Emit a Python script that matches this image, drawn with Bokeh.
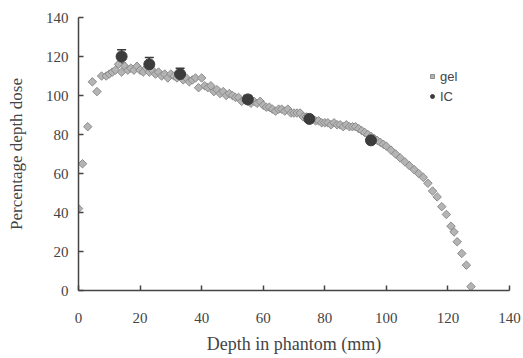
from bokeh.plotting import figure
from bokeh.models import ColumnDataSource, Whisker, TeeHead, Legend, LegendItem, FixedTicker
from bokeh.embed import file_html
from bokeh.resources import INLINE
import numpy as np

# gel dosimeter measurements (depth mm, PDD %)
gel_x = [0, 1.3, 3, 4.5, 6, 7.5, 9, 10, 11, 12, 13, 14, 15, 16, 17, 18, 19, 20,
         21, 22, 23, 24, 25, 26, 27, 28, 29, 30, 31, 32, 33, 34, 35, 36, 37, 38,
         39, 40, 41, 42, 43, 44, 45, 46, 47, 48, 49, 50, 51, 52, 53, 54, 55, 56,
         57, 58, 59, 60, 61, 62, 63, 64, 65, 66, 67, 68, 69, 70, 71, 72, 73, 74,
         75, 76, 77, 78, 79, 80, 81, 82, 83, 84, 85, 86, 87, 88, 89, 90, 91, 92,
         93, 94, 95, 96, 97, 98, 99, 100, 101.5, 103, 104.5, 106, 107.5, 109,
         110.5, 112, 113.5, 115, 116.5, 118, 119.5, 121, 122, 123, 124.5, 126, 127.5]
gel_y = [42, 65, 84, 107, 102, 110, 110, 111, 112, 113, 116, 112, 115, 113, 114, 113, 115, 113,
         112, 114, 112, 113, 111, 112, 110, 111, 109, 111, 110, 109, 110, 108, 109, 107, 108, 109,
         104, 109, 105, 104, 105, 102, 103, 101, 102, 100, 101, 100, 99, 99, 97, 98, 97, 96,
         97, 96, 97, 95, 94, 94, 93, 92, 93, 93, 92, 93, 91, 91, 91, 91, 89, 89,
         88, 88, 87, 87, 86, 86, 86, 85, 86, 85, 85, 84, 85, 84, 84, 84, 83, 82,
         81, 80, 79, 78, 77, 76, 75, 74, 72, 70, 68, 66, 64, 62,
         60, 58, 55, 51, 48, 43, 39, 33, 30, 25, 19, 13, 2]

# ionisation chamber measurements
ic_x = [14, 23, 33, 55, 75, 95]
ic_y = [120, 116, 111, 98, 88, 77]
ic_err = [3.5, 3.5, 3, 2, 1.5, 1.5]

ticks = [0, 20, 40, 60, 80, 100, 120, 140]

p = figure(width=523, height=358, output_backend="svg", toolbar_location=None,
           x_range=(0, 140), y_range=(0, 140),
           min_border_left=78, min_border_right=14, min_border_top=17, min_border_bottom=68)
p.outline_line_color = None
p.xgrid.visible = False
p.ygrid.visible = False
p.background_fill_color = "white"

gel_src = ColumnDataSource(dict(x=gel_x, y=gel_y))
ic_src = ColumnDataSource(dict(x=ic_x, y=ic_y,
                               upper=[a + b for a, b in zip(ic_y, ic_err)],
                               lower=[a - b for a, b in zip(ic_y, ic_err)]))

r_gel = p.scatter("x", "y", source=gel_src, marker="square", angle=np.pi / 4, size=6,
                  fill_color="#b4b4b4", line_color="#8c8c8c", line_width=1)

w = Whisker(source=ic_src, base="x", upper="upper", lower="lower",
            line_color="#3a3a3a", line_width=1.5,
            upper_head=TeeHead(size=9, line_color="#3a3a3a", line_width=1.5),
            lower_head=TeeHead(size=9, line_color="#3a3a3a", line_width=1.5))
p.add_layout(w)
r_ic = p.scatter("x", "y", source=ic_src, marker="circle", size=11,
                 fill_color="#3c3c3c", line_color="#3c3c3c")

legend = Legend(items=[LegendItem(label="gel", renderers=[r_gel]),
                       LegendItem(label="IC", renderers=[r_ic])],
                location=(349, 184), padding=0, spacing=0, margin=0,
                border_line_color=None, background_fill_alpha=0,
                glyph_width=10, glyph_height=20, label_height=20, label_standoff=3,
                label_text_font="Liberation Sans", label_text_font_size="13px",
                label_text_color="#444444")
p.add_layout(legend)

for ax in (p.xaxis[0], p.yaxis[0]):
    ax.ticker = FixedTicker(ticks=ticks)
    ax.major_tick_in = 5
    ax.major_tick_out = 0
    ax.minor_tick_in = 0
    ax.minor_tick_out = 0
    ax.axis_line_color = "#444444"
    ax.axis_line_width = 1.5
    ax.major_tick_line_color = "#444444"
    ax.major_tick_line_width = 1.5
    ax.major_label_text_font = "Liberation Serif"
    ax.major_label_text_font_size = "15px"
    ax.major_label_text_color = "#444444"
    ax.axis_label_text_font = "Liberation Serif"
    ax.axis_label_text_font_size = "17px"
    ax.axis_label_text_font_style = "normal"
    ax.axis_label_text_color = "#444444"

p.xaxis.axis_label = "Depth in phantom (mm)"
p.xaxis.axis_label_text_font_size = "18px"
p.yaxis.axis_label = "Percentage depth dose"
p.xaxis.major_label_standoff = 22
p.xaxis.axis_label_standoff = 8
p.yaxis.major_label_standoff = 10
p.yaxis.axis_label_standoff = 17

open("out.html", "w").write(file_html(p, INLINE))
